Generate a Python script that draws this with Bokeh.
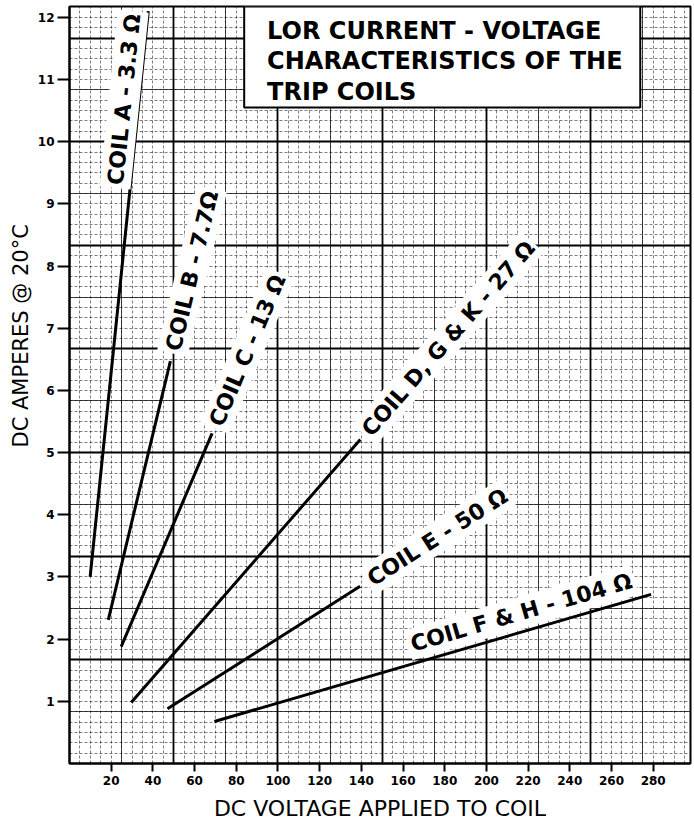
import math
from bokeh.plotting import figure
from bokeh.models import (Label, BoxAnnotation, FixedTicker, SingleIntervalTicker, Grid, Range1d, Title)
from bokeh.embed import file_html
from bokeh.resources import INLINE

# ---------------- data ----------------
coils = ["COIL A - 3.3 \u03a9", "COIL B - 7.7\u03a9", "COIL C - 13 \u03a9",
         "COIL D, G & K - 27 \u03a9", "COIL E - 50 \u03a9", "COIL F & H - 104 \u03a9"]
v_start = [9.9, 18.6, 24.8, 29.6, 47.0, 69.5]      # DC volts
i_start = [3.0, 2.31, 1.88, 0.98, 0.88, 0.675]     # DC amperes
v_end = [37.8, 48.4, 68.4, 139.5, 139.4, 279.0]
i_end = [12.1, 6.47, 5.31, 5.21, 2.85, 2.72]

x_ticks = [20, 40, 60, 80, 100, 120, 140, 160, 180, 200, 220, 240, 260, 280]
y_ticks = [1, 2, 3, 4, 5, 6, 7, 8, 9, 10, 11, 12]
title_lines = ["LOR CURRENT - VOLTAGE", "CHARACTERISTICS OF THE", "TRIP COILS"]
x_label = "DC VOLTAGE APPLIED TO COIL"
y_label = "DC AMPERES @ 20\u00b0C"

# ---------------- layout ----------------
W, H = 694, 823
ML, MR, MT, MB = 69, 4, 6, 60
XMAX = 297.9
fw, fh = W - ML - MR, H - MT - MB
YMAX = fh / 62.18
sx, sy = fw / XMAX, fh / YMAX   # px per unit

p = figure(width=W, height=H, x_range=Range1d(0, XMAX), y_range=Range1d(0, YMAX),
           output_backend="svg", toolbar_location=None,
           min_border_left=ML, min_border_right=MR, min_border_top=MT, min_border_bottom=MB)
p.background_fill_color = "white"
p.border_fill_color = "white"
p.outline_line_color = "black"
p.outline_line_width = 2

# graph-paper grid
p.xgrid.ticker = SingleIntervalTicker(interval=50, num_minor_ticks=10)
p.ygrid.ticker = SingleIntervalTicker(interval=5 / 3, num_minor_ticks=10)
for g in (p.xgrid, p.ygrid):
    g.grid_line_color = "black"
    g.grid_line_width = 1.8
    g.grid_line_alpha = 1.0
    g.minor_grid_line_color = "black"
    g.minor_grid_line_alpha = 0.5
    g.minor_grid_line_width = 1
    g.minor_grid_line_dash = "3 2"
p.add_layout(Grid(dimension=0, ticker=SingleIntervalTicker(interval=25),
                  grid_line_color="black", grid_line_alpha=0.7, grid_line_width=1))
p.add_layout(Grid(dimension=1, ticker=SingleIntervalTicker(interval=5 / 6),
                  grid_line_color="black", grid_line_alpha=0.7, grid_line_width=1))

# axes
for ax in (p.xaxis, p.yaxis):
    ax.axis_line_width = 2
    ax.major_tick_line_width = 2
    ax.major_tick_in = 0
    ax.minor_tick_line_color = None
    ax.major_label_text_font = "DejaVu Sans"
    ax.major_label_text_font_size = "12px"
    ax.major_label_text_font_style = "bold"
    ax.major_label_text_color = "black"
p.xaxis.ticker = FixedTicker(ticks=x_ticks)
p.yaxis.ticker = FixedTicker(ticks=y_ticks)
p.xaxis.major_tick_out = 8
p.yaxis.major_tick_out = 12
p.xaxis.major_label_standoff = 4
p.yaxis.major_label_standoff = 3
p.xaxis.axis_label = x_label
p.xaxis.axis_label_text_font = "DejaVu Sans"
p.xaxis.axis_label_text_font_size = "22px"
p.xaxis.axis_label_text_font_style = "normal"
p.xaxis.axis_label_text_color = "black"
p.xaxis.axis_label_standoff = 8

# y axis title, placed higher than the frame centre as in the original
p.add_layout(Title(text=y_label, align="left", offset=316, text_font="DejaVu Sans",
                   text_font_size="21px", text_font_style="normal", text_color="black",
                   standoff=4), "left")

# coil lines
p.segment(x0=v_start, y0=i_start, x1=v_end, y1=i_end, line_color="black", line_width=3)

# coil labels: (anchor fraction along line, gap along, perpendicular offset)
label_style = [(0.6956, -6, 15), (1.0, 8, 0), (1.0, 6, 0), (1.0, 6, 0), (1.0, 8, 0), (0.456, 0, 19)]
for name, x0, y0, x1, y1, (f, gap, perp) in zip(coils, v_start, i_start, v_end, i_end, label_style):
    a = math.atan2((y1 - y0) * sy, (x1 - x0) * sx)
    ax_ = x0 + f * (x1 - x0)
    ay_ = y0 + f * (y1 - y0)
    ox = gap * math.cos(a) - perp * math.sin(a)
    oy = gap * math.sin(a) + perp * math.cos(a)
    p.add_layout(Label(x=ax_, y=ay_, x_offset=ox, y_offset=oy, angle=a, text=name,
                       text_font="DejaVu Sans", text_font_style="bold", text_font_size="22px",
                       text_align="left", text_baseline="middle", text_color="black",
                       background_fill_color="white", padding=3))

# title box
p.add_layout(BoxAnnotation(left=83.8, right=273.8, top=YMAX, bottom=10.55,
                           fill_color="white", fill_alpha=1.0, line_color="black",
                           line_alpha=1.0, line_width=2))
for k, t in enumerate(title_lines):
    p.add_layout(Label(x=94.8, y=11.775 - k * 0.485, text=t, text_font="DejaVu Sans",
                       text_font_style="bold", text_font_size="24px", text_align="left",
                       text_baseline="middle", text_color="black"))

open("out.html", "w").write(file_html(p, INLINE))
